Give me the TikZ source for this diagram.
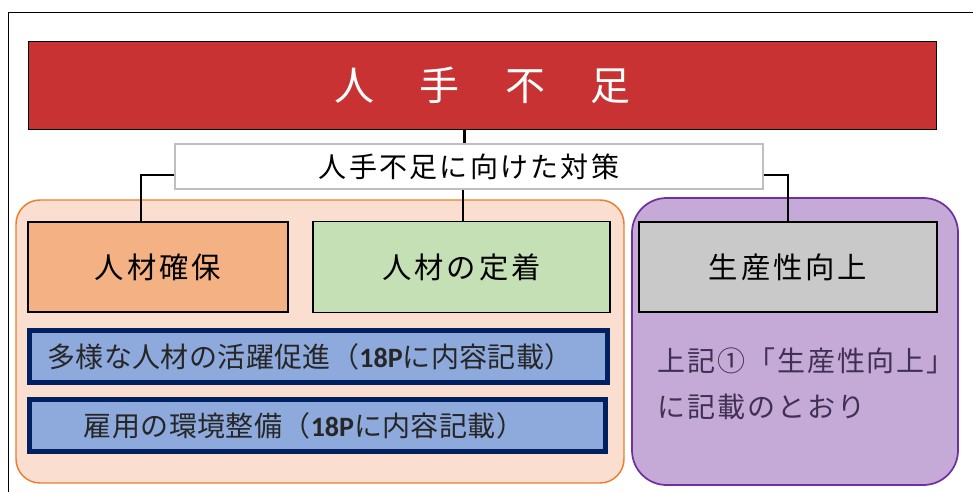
\documentclass[tikz,border=0pt]{standalone}
\usepackage{fontspec}
\setmainfont{Noto Sans CJK JP}
\newfontfamily\latb{Carlito}
\definecolor{titlered}{HTML}{C83232}
\definecolor{hireor}{HTML}{F4B183}
\definecolor{stayg}{HTML}{C5E0B4}
\definecolor{prodg}{HTML}{C9C9C9}
\definecolor{panelor}{HTML}{FADFD0}
\definecolor{panelorline}{HTML}{ED7D31}
\definecolor{panelpu}{HTML}{C5A9D7}
\definecolor{panelpuline}{HTML}{7030A0}
\definecolor{bluefill}{HTML}{8EA9DB}
\definecolor{navy}{HTML}{002060}
\definecolor{ptext}{HTML}{3F3151}
\begin{document}
\begin{tikzpicture}[x=0.75pt,y=-0.75pt,
  catbox/.style={draw=black,line width=1.1pt,inner sep=0pt,font=\fontsize{22pt}{26pt}\selectfont\addfontfeature{LetterSpace=10}},
  bluebox/.style={draw=navy,fill=bluefill,line width=3.75pt,inner sep=0pt,minimum width=433pt,minimum height=39pt},
  bluetext/.style={inner sep=0pt,text=black!85,font=\fontsize{21pt}{25pt}\selectfont\addfontfeature{LetterSpace=1.5}},
  conn/.style={draw=black,line width=1.1pt}]
\useasboundingbox (0,0) rectangle (973,492);
% outer frame (cropped)
\draw[line width=1.1pt] (8.5,492) -- (8.5,12.5) -- (973,12.5);
% panels
\draw[fill=panelor,draw=panelorline,line width=1.1pt,rounded corners=18pt] (16,200) rectangle (624,483);
\draw[fill=panelpu,draw=panelpuline,line width=1.3pt,rounded corners=26pt] (632,198) rectangle (958,485);
% title
\node[draw=black,line width=1.2pt,fill=titlered,minimum width=681pt,minimum height=66pt,inner sep=0pt,text=white,font=\fontsize{30pt}{34pt}\selectfont] (title) at (482.5,85.5) {人\hspace{34pt}手\hspace{34pt}不\hspace{34pt}足};
% label
\node[draw=black!25,line width=1.1pt,fill=white,minimum width=441pt,minimum height=33.75pt,inner sep=0pt,font=\fontsize{21pt}{25pt}\selectfont\addfontfeature{LetterSpace=8}] (lbl) at (469,166.5) {人手不足に向けた対策};
% category boxes
\node[catbox,fill=hireor,minimum width=195pt,minimum height=67.5pt] (hire) at (158,267) {人材確保};
\node[catbox,fill=stayg,minimum width=222.75pt,minimum height=68.25pt] (stay) at (461.5,267) {人材の定着};
\node[catbox,fill=prodg,minimum width=223.5pt,minimum height=67.5pt] (prod) at (788,267) {生産性向上};
% blue boxes
\node[bluebox] (b1) at (318.5,356.5) {};
\node[bluetext] (b1t) at (310,357) {多様な人材の活躍促進（{\latb\bfseries 18P}に内容記載）};
\node[bluebox,minimum width=432pt] (b2) at (317.5,425.5) {};
\node[bluetext] (b2t) at (304,426) {雇用の環境整備（{\latb\bfseries 18P}に内容記載）};
% purple text
\node[anchor=west,inner sep=0pt,text=ptext,align=left,font=\fontsize{21pt}{34.5pt}\selectfont\addfontfeature{LetterSpace=7}] (ptxt) at (657,384) {上記①「生産性向上」\\に記載のとおり};
% connectors
\coordinate (topx) at ([xshift=1.9pt]stay.north);
\coordinate (midx) at ([xshift=1.2pt]stay.north);
\draw[conn,line width=2.2pt] (topx |- title.south) -- (topx |- lbl.north);
\draw[conn] (midx |- lbl.south) -- (midx);
\coordinate (lw) at ([yshift=-6.4pt]lbl.west);
\coordinate (le) at ([yshift=-6.4pt]lbl.east);
\coordinate (hx) at ([xshift=-12.75pt]hire.north);
\draw[conn] (lw) -| (hx);
\draw[conn] (le) -| (prod.north);
\end{tikzpicture}
\end{document}
